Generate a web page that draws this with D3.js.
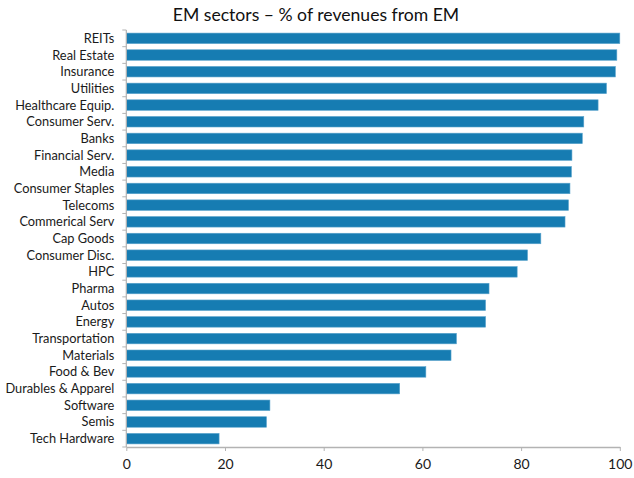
<!DOCTYPE html>
<html>
<head>
<meta charset="utf-8">
<script src="https://cdn.jsdelivr.net/npm/d3@7"></script>
<style>
  html, body { margin: 0; padding: 0; background: #fff; }
  svg { display: block; font-family: Lato, "Open Sans", sans-serif; }
</style>
</head>
<body>
<svg id="chart" width="634" height="478"></svg>
<script>
// Sector names, top to bottom
const sectors = [
  "REITs", "Real Estate", "Insurance", "Utilities", "Healthcare Equip.",
  "Consumer Serv.", "Banks", "Financial Serv.", "Media", "Consumer Staples",
  "Telecoms", "Commerical Serv", "Cap Goods", "Consumer Disc.", "HPC",
  "Pharma", "Autos", "Energy", "Transportation", "Materials",
  "Food & Bev", "Durables & Apparel", "Software", "Semis", "Tech Hardware"
];

// Share of revenues earned in EM (%)
const emShare = [
  100.0, 99.4, 99.1, 97.3, 95.6,
  92.7, 92.4, 90.3, 90.2, 89.9,
  89.6, 88.9, 84.0, 81.3, 79.2,
  73.5, 72.8, 72.8, 66.9, 65.8,
  60.7, 55.4, 29.1, 28.4, 18.8
];

const xTicks = [0, 20, 40, 60, 80, 100];
const title = "EM sectors \u2013 % of revenues from EM";

const data = sectors.map((s, i) => ({ sector: s, value: emShare[i] }));

const svg = d3.select("#chart");
const margin = { top: 30, right: 14, bottom: 31, left: 126.3 };
const height = 478 - margin.top - margin.bottom;

const g = svg.append("g").attr("transform", `translate(${margin.left},${margin.top})`);

const x = d3.scaleLinear().domain([0, 100]).range([0, 493.5]);
const y = d3.scaleBand().domain(sectors).range([0, height]).paddingInner(0.37).paddingOuter(0.185);

// Bars
g.selectAll("rect.bar")
  .data(data)
  .join("rect")
  .attr("class", "bar")
  .attr("x", 0)
  .attr("y", d => y(d.sector))
  .attr("width", d => x(d.value))
  .attr("height", y.bandwidth())
  .attr("fill", "#167cb2")
  .attr("stroke", "#5aa3cc")
  .attr("stroke-width", 0.6);

// Category axis: line with ticks at band boundaries
const axisColor = "#b3b3b3";
const yAxis = g.append("g");
yAxis.append("line")
  .attr("x1", 0).attr("x2", 0).attr("y1", 0).attr("y2", height)
  .attr("stroke", axisColor).attr("stroke-width", 1.2);
yAxis.selectAll("line.tick")
  .data(d3.range(sectors.length + 1))
  .join("line")
  .attr("class", "tick")
  .attr("x1", -4).attr("x2", 0)
  .attr("y1", i => i * (height / sectors.length))
  .attr("y2", i => i * (height / sectors.length))
  .attr("stroke", axisColor).attr("stroke-width", 1);
yAxis.selectAll("text")
  .data(sectors)
  .join("text")
  .attr("x", -12)
  .attr("y", d => y(d) + y.bandwidth() / 2)
  .attr("dy", "0.35em")
  .attr("text-anchor", "end")
  .attr("font-size", 12.8)
  .attr("fill", "#1a1a1a")
  .text(d => d);

// Value axis
const xAxis = g.append("g")
  .attr("transform", `translate(0,${height})`)
  .call(d3.axisBottom(x).tickValues(xTicks).tickSize(4).tickPadding(8).tickSizeOuter(0));
xAxis.select(".domain").attr("stroke", axisColor).attr("stroke-width", 1.5);
xAxis.selectAll(".tick line").attr("stroke", axisColor);
xAxis.selectAll(".tick text")
  .attr("font-size", 14)
  .attr("fill", "#1a1a1a")
  .attr("font-family", "Lato, 'Open Sans', sans-serif");

// Title
svg.append("text")
  .attr("x", 316)
  .attr("y", 21)
  .attr("text-anchor", "middle")
  .attr("font-size", 17.6)
  .attr("fill", "#111")
  .text(title);
</script>
</body>
</html>
